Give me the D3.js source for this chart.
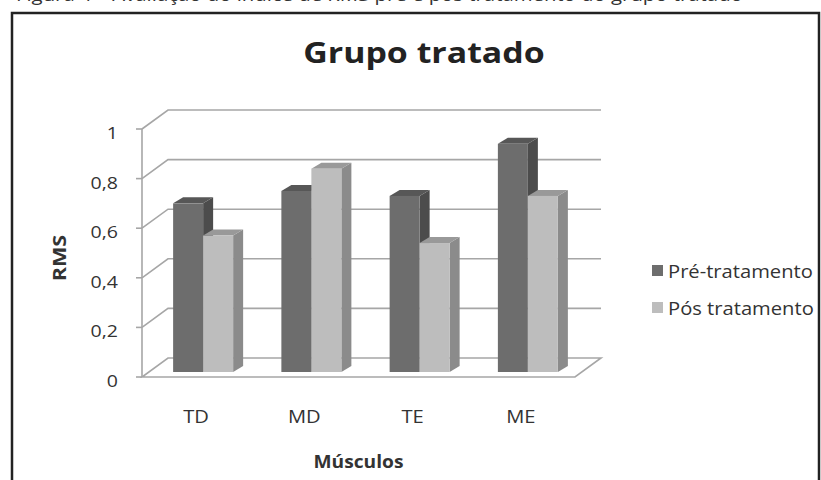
<!DOCTYPE html>
<html>
<head>
<meta charset="utf-8">
<script src="https://cdn.jsdelivr.net/npm/d3@7"></script>
<style>
  body { margin: 0; background: #fff; }
  svg { display: block; font-family: "Open Sans", sans-serif; }
</style>
</head>
<body>
<script>
var categories = ["TD", "MD", "TE", "ME"];
var preValues = [0.68, 0.73, 0.71, 0.92];
var postValues = [0.55, 0.82, 0.52, 0.71];
var seriesNames = ["Pré-tratamento", "Pós tratamento"];
var yTicks = [0, 0.2, 0.4, 0.6, 0.8, 1];

var svg = d3.select("body").append("svg")
  .attr("width", 821)
  .attr("height", 480);

// place a text and stretch it sideways, the scan's font runs wider than Open Sans
function place(tx, ty, k) {
  return "translate(" + tx + "," + ty + ") scale(" + k + ",1)";
}

// caption of the page, cut off at the top like in the scan
svg.append("text")
  .attr("transform", place(16, 0.5, 1.13))
  .style("font-size", "18px")
  .style("fill", "#333")
  .text("Figura 4 – Avaliação do índice de RMS pré e pós tratamento do grupo tratado");

// frame
svg.append("rect")
  .attr("x", 12)
  .attr("y", 13)
  .attr("width", 807)
  .attr("height", 480)
  .style("fill", "none")
  .style("stroke", "#222")
  .style("stroke-width", 2.5);

var x0 = 142, x1 = 575;
var wallDx = 26, wallDy = -19;   // depth of back wall
var barOx = 7, barOy = -5;       // bar position inside depth
var barDx = 10, barDy = -6;      // bar depth
var barW = 30;

var x = d3.scaleBand().domain(categories).range([x0, x1]);
var y = d3.scaleLinear().domain([0, 1]).range([377, 129]);

var grid = svg.append("g").attr("class", "grid")
  .style("stroke", "#a6a6a6")
  .style("stroke-width", 1.6)
  .style("fill", "none");

// floor
grid.append("path")
  .attr("d", "M" + x0 + "," + y(0) + "L" + x1 + "," + y(0) +
    "L" + (x1 + wallDx) + "," + (y(0) + wallDy) +
    "L" + (x0 + wallDx) + "," + (y(0) + wallDy) + "Z")
  .style("fill", "#fff");

// back wall lines and side wall diagonals
grid.selectAll(".gl")
  .data(yTicks.filter(function(d) { return d > 0; }))
  .enter().append("path")
    .attr("class", "gl")
    .attr("d", function(d) {
      return "M" + x0 + "," + y(d) + "L" + (x0 + wallDx) + "," + (y(d) + wallDy) +
        "L" + (x1 + wallDx) + "," + (y(d) + wallDy);
    });

// y axis
grid.append("line")
  .attr("x1", x0).attr("x2", x0)
  .attr("y1", y(0)).attr("y2", y(1));
grid.selectAll(".tk")
  .data(yTicks)
  .enter().append("line")
    .attr("x1", x0 - 6).attr("x2", x0)
    .attr("y1", function(d) { return y(d); })
    .attr("y2", function(d) { return y(d); });

svg.selectAll(".ylab")
  .data(yTicks)
  .enter().append("text")
    .attr("class", "ylab")
    .attr("transform", function(d) { return place(118, y(d) + 10, 1.15); })
    .attr("text-anchor", "end")
    .style("font-size", "17px")
    .style("fill", "#333")
    .text(function(d) { return d3.format(".1~f")(d).replace(".", ","); });

// bars
var bars = [];
categories.forEach(function(c, i) {
  var cx = x(c) + x.bandwidth() / 2 + barOx;
  bars.push({ v: preValues[i], left: cx - barW, s: 0 });
  bars.push({ v: postValues[i], left: cx, s: 1 });
});
var faces = [
  { front: "#6d6d6d", top: "#575757", side: "#4c4c4c" },
  { front: "#bdbdbd", top: "#999999", side: "#8b8b8b" }
];

function pts(a) { return a.map(function(p) { return p.join(","); }).join(" "); }

var bg = svg.append("g").attr("class", "bars");
bars.forEach(function(b) {
  var base = y(0) + barOy;
  var top = y(b.v) + barOy;
  var l = b.left, r = b.left + barW;
  var f = faces[b.s];
  bg.append("polygon")
    .attr("points", pts([[r, base], [r + barDx, base + barDy], [r + barDx, top + barDy], [r, top]]))
    .style("fill", f.side);
  bg.append("polygon")
    .attr("points", pts([[l, top], [r, top], [r + barDx, top + barDy], [l + barDx, top + barDy]]))
    .style("fill", f.top);
  bg.append("rect")
    .attr("x", l).attr("y", top)
    .attr("width", barW).attr("height", base - top)
    .style("fill", f.front);
});

// x labels
svg.selectAll(".xlab")
  .data(categories)
  .enter().append("text")
    .attr("class", "xlab")
    .attr("transform", function(d) { return place(x(d) + x.bandwidth() / 2, 423, 1.12); })
    .attr("text-anchor", "middle")
    .style("font-size", "18px")
    .style("fill", "#333")
    .text(function(d) { return d; });

svg.append("text")
  .attr("transform", place((x0 + x1) / 2, 468, 1.13))
  .attr("text-anchor", "middle")
  .style("font-size", "17px")
  .style("font-weight", "bold")
  .style("fill", "#333")
  .text("Músculos");

svg.append("text")
  .attr("transform", "translate(66,258) rotate(-90) scale(1.2,1)")
  .attr("text-anchor", "middle")
  .style("font-size", "18px")
  .style("font-weight", "bold")
  .style("fill", "#333")
  .text("RMS");

// title
svg.append("text")
  .attr("transform", place(424, 63, 1.21))
  .attr("text-anchor", "middle")
  .style("font-size", "28px")
  .style("font-weight", "bold")
  .style("fill", "#222")
  .text("Grupo tratado");

// legend
var leg = svg.selectAll(".leg")
  .data(seriesNames)
  .enter().append("g")
    .attr("transform", function(d, i) { return "translate(652," + (265 + i * 37) + ")"; });
leg.append("rect")
  .attr("width", 11).attr("height", 11)
  .style("fill", function(d, i) { return i === 0 ? "#6d6d6d" : "#bdbdbd"; });
leg.append("text")
  .attr("transform", place(16, 13, 1.12))
  .style("font-size", "18px")
  .style("fill", "#333")
  .text(function(d) { return d; });
</script>
</body>
</html>
